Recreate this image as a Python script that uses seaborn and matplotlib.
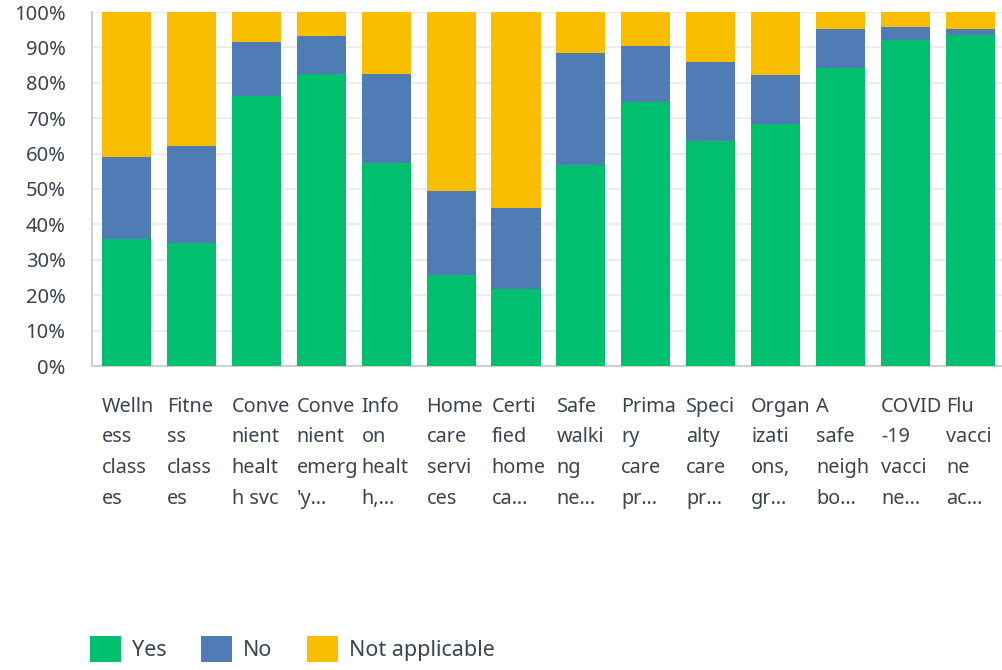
import numpy as np
import pandas as pd
import matplotlib
matplotlib.use("Agg")
import matplotlib.pyplot as plt
import seaborn as sns
from matplotlib.patches import Patch
from matplotlib.transforms import ScaledTranslation

categories = ["Welln\ness\nclass\nes", "Fitne\nss\nclass\nes", "Conve\nnient\nhealt\nh svc",
              "Conve\nnient\nemerg\n'y…", "Info\non\nhealt\nh,…", "Home\ncare\nservi\nces",
              "Certi\nfied\nhome\nca…", "Safe\nwalki\nng\nne…", "Prima\nry\ncare\npr…",
              "Speci\nalty\ncare\npr…", "Organ\nizati\nons,\ngr…", "A\nsafe\nneigh\nbo…",
              "COVID\n-19\nvacci\nne…", "Flu\nvacci\nne\nac…"]
yes = [35.9, 34.7, 76.4, 82.6, 57.3, 25.7, 21.8, 56.8, 74.6, 63.6, 68.4, 84.2, 92.1, 93.5]
no = [23.1, 27.5, 15.1, 10.6, 25.2, 23.7, 22.8, 31.6, 15.8, 22.3, 13.8, 11.0, 3.7, 1.7]
not_applicable = [41.0, 37.8, 8.5, 6.8, 17.5, 50.6, 55.4, 11.6, 9.6, 14.1, 17.8, 4.8, 4.2, 4.8]
series_names = ["Yes", "No", "Not applicable"]
colors = ["#00BF6F", "#507CB6", "#F9BE00"]
ytick_vals = [0, 10, 20, 30, 40, 50, 60, 70, 80, 90, 100]

sns.set_theme(style="white")
plt.rcParams['font.family'] = ['Noto Sans', 'DejaVu Sans']
text_color = "#3b4450"

df = pd.DataFrame({"cat": categories, "yes": yes, "no": no, "na": not_applicable})
df["top_no"] = df["yes"] + df["no"]
df["top_na"] = df["top_no"] + df["na"]

fig = plt.figure(figsize=(10.03, 6.7), dpi=100)
ax = fig.add_axes([92 / 1003, (670 - 366) / 670, 911 / 1003, 354 / 670])

for col, c in zip(["top_na", "top_no", "yes"], [colors[2], colors[1], colors[0]]):
    sns.barplot(data=df, x="cat", y=col, color=c, width=0.755, saturation=1,
                ax=ax, order=categories, zorder=3, edgecolor="none", linewidth=0)

ax.set_xlim(-0.53, len(categories) - 0.5)
ax.set_ylim(0, 100)
ax.set_yticks(ytick_vals)
ax.set_yticklabels([f"{v}%" for v in ytick_vals], fontsize=14.5, color=text_color)
ax.set_xlabel("")
ax.set_ylabel("")
ax.yaxis.grid(True, color="#ededed", linewidth=1.5, zorder=0)
ax.set_axisbelow(True)
for s in ["top", "right"]:
    ax.spines[s].set_visible(False)
for s in ["left", "bottom"]:
    ax.spines[s].set_color("#d0d0d0")
    ax.spines[s].set_linewidth(1.5)
ax.tick_params(axis="y", length=0, pad=19)
ax.tick_params(axis="x", length=0, pad=22)
ax.set_xticks(range(len(categories)))
ax.set_xticklabels(categories, fontsize=14.3, color=text_color, ha="left", va="top",
                   linespacing=1.72)
shift = ScaledTranslation(-24.5 / 100, 0, fig.dpi_scale_trans)
for lab in ax.get_xticklabels():
    lab.set_transform(lab.get_transform() + shift)

handles = [Patch(facecolor=c, edgecolor="none") for c in colors]
fig.legend(handles, series_names, loc="center left",
           bbox_to_anchor=(90 / 1003, 1 - 649 / 670), ncol=3, frameon=False,
           fontsize=15.5, handlelength=1.45, handleheight=1.45, handletextpad=0.5,
           columnspacing=1.6, borderpad=0, borderaxespad=0, labelcolor=text_color)

fig.savefig("out.png", dpi=100)
